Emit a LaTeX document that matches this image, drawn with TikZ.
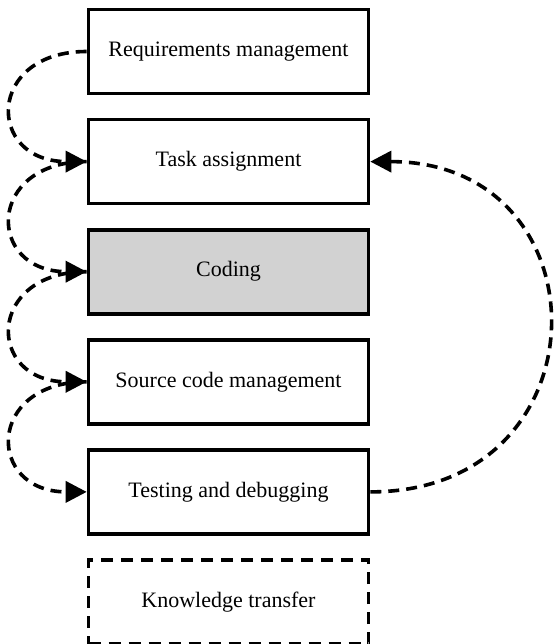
\documentclass[tikz,border=0pt]{standalone}
\usepackage{fontspec}
\setmainfont{Liberation Serif}
\usetikzlibrary{positioning,arrows.meta}

\begin{document}
\begin{tikzpicture}[x=1pt,y=-1pt,
  stage/.style={draw,line width=3.6pt,minimum width=280pt,minimum height=84pt,
    font=\fontsize{22}{26}\selectfont},
  flow/.style={line width=3.6pt,dash pattern=on 11pt off 7pt,
    -{Triangle[length=21pt,width=21pt]}},
  node distance=22.5pt]
%%%
% stages of the work, top to bottom
%%%
\useasboundingbox (0,0) rectangle (556,644);

\node[stage] (req) at (228.5,51.5) {Requirements management};
\node[stage,below=of req] (task) {Task assignment};
\node[stage,below=of task,fill=gray!35] (code) {Coding};
\node[stage,below=of code] (scm) {Source code management};
\node[stage,below=of scm] (test) {Testing and debugging};
\node[stage,below=of test,dash pattern=on 12pt off 8pt] (know) {Knowledge transfer};

% flow on the left side
\draw[flow] (req.west) to[out=180,in=180,looseness=2.35] (task.west);
\draw[flow] (task.west) to[out=180,in=180,looseness=2.35] (code.west);
\draw[flow] (code.west) to[out=180,in=180,looseness=2.35] (scm.west);
\draw[flow] (scm.west) to[out=180,in=180,looseness=2.35] (test.west);

% back loop on the right
\draw[flow] (test.east) to[out=0,in=0,looseness=1.85] (task.east);
\end{tikzpicture}
\end{document}
